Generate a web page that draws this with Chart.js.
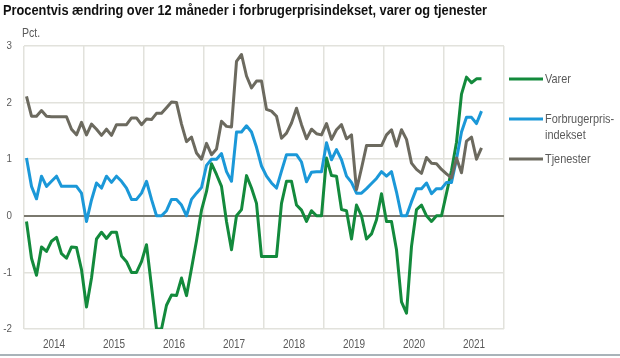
<!DOCTYPE html>
<html><head><meta charset="utf-8">
<script src="https://cdn.jsdelivr.net/npm/chart.js@4.4.1/dist/chart.umd.min.js"></script>
<style>html,body{margin:0;padding:0;background:#fff;} #wrap{width:620px;height:358px;position:relative;}</style>
</head><body><div id="wrap"><canvas id="c" width="620" height="358"></canvas></div>
<script>
const chartTitle = 'Procentvis ændring over 12 måneder i forbrugerprisindekset, varer og tjenester';
const unitLabel = 'Pct.';
const years = ['2014', '2015', '2016', '2017', '2018', '2019', '2020', '2021'];
const seriesNames = ['Varer', 'Forbrugerpris-\nindekset', 'Tjenester'];
const yTicks = [-2, -1, 0, 1, 2, 3];

// monthly values, Jan 2014 .. Aug 2021
const varer = [
  -0.10, -0.75, -1.05, -0.55, -0.63, -0.45, -0.38, -0.67, -0.75, -0.55, -0.56, -0.95,
  -1.61, -1.10, -0.41, -0.29, -0.40, -0.29, -0.29, -0.71, -0.81, -1.00, -1.00, -0.81,
  -0.51, -1.25, -2.00, -2.00, -1.58, -1.40, -1.41, -1.10, -1.41, -0.93, -0.44, 0.10,
  0.43, 0.92, 0.73, 0.52, -0.10, -0.60, 0.00, 0.11, 0.71, 0.49, 0.22, -0.72,
  -0.72, -0.72, -0.72, 0.22, 0.61, 0.61, 0.19, 0.10, -0.10, 0.09, 0.00, 0.00,
  1.02, 0.71, 0.70, 0.11, 0.09, -0.41, 0.19, 0.00, -0.41, -0.32, -0.07, 0.39,
  -0.10, -0.10, -0.60, -1.52, -1.72, -0.54, 0.11, 0.19, 0.00, -0.10, 0.00, 0.00,
  0.40, 0.80, 1.30, 2.15, 2.45, 2.35, 2.42, 2.42
];
const forbrugerprisindekset = [
  1.02, 0.52, 0.30, 0.70, 0.52, 0.61, 0.70, 0.52, 0.52, 0.52, 0.52, 0.40,
  -0.10, 0.28, 0.58, 0.49, 0.70, 0.59, 0.70, 0.61, 0.49, 0.29, 0.29, 0.40,
  0.61, 0.29, 0.00, 0.00, 0.09, 0.29, 0.29, 0.19, 0.00, 0.29, 0.40, 0.50,
  0.89, 1.00, 1.00, 1.10, 0.78, 0.61, 1.48, 1.48, 1.59, 1.48, 1.21, 0.88,
  0.70, 0.58, 0.49, 0.79, 1.08, 1.08, 1.08, 0.95, 0.60, 0.77, 0.78, 0.78,
  1.29, 0.99, 1.17, 0.99, 0.70, 0.59, 0.40, 0.40, 0.48, 0.57, 0.66, 0.78,
  0.70, 0.78, 0.42, 0.00, 0.00, 0.25, 0.48, 0.48, 0.58, 0.39, 0.48, 0.48,
  0.59, 0.59, 1.00, 1.48, 1.74, 1.74, 1.63, 1.85
];
const tjenester = [
  2.11, 1.76, 1.76, 1.86, 1.76, 1.75, 1.75, 1.75, 1.75, 1.53, 1.43, 1.65,
  1.43, 1.62, 1.53, 1.42, 1.53, 1.42, 1.61, 1.61, 1.61, 1.73, 1.73, 1.61,
  1.71, 1.70, 1.81, 1.81, 1.91, 2.01, 2.00, 1.62, 1.31, 1.39, 1.11, 1.00,
  1.28, 1.08, 1.18, 1.67, 1.58, 1.57, 2.73, 2.85, 2.47, 2.26, 2.38, 2.38,
  1.88, 1.85, 1.76, 1.37, 1.46, 1.64, 1.90, 1.61, 1.36, 1.53, 1.45, 1.43,
  1.63, 1.35, 1.52, 1.61, 1.36, 1.43, 0.46, 0.84, 1.24, 1.24, 1.24, 1.24,
  1.43, 1.52, 1.23, 1.52, 1.35, 0.93, 0.82, 0.75, 1.03, 0.93, 0.92, 0.82,
  0.74, 0.67, 1.02, 0.76, 1.32, 1.39, 1.00, 1.20
];

const colors = ['#138a3c', '#1b98d8', '#6c6a5f'];
const FONT = "'Liberation Sans', Arial, sans-serif";
const TEXT = '#5a5a5a';
const GRID = '#e2e2dc';
const monthsPerYear = 12;
const totalMonths = years.length * monthsPerYear;

const toPoints = arr => arr.map((v, i) => ({ x: i + 0.5, y: v }));

// draw horizontally condensed text (imitates a narrow typeface)
function narrowText(c, text, x, y, align, font, sx) {
  c.save();
  c.font = font;
  c.textBaseline = 'middle';
  c.textAlign = align;
  c.translate(x, y);
  c.scale(sx, 1);
  c.fillText(text, 0, 0);
  c.restore();
}

const decor = {
  id: 'decor',
  beforeDraw(chart) {
    const c = chart.ctx;
    c.save();
    c.fillStyle = '#fff';
    c.fillRect(0, 0, chart.width, chart.height);
    c.restore();
  },
  afterDraw(chart) {
    const c = chart.ctx;
    const area = chart.chartArea;
    const xs = chart.scales.x, ys = chart.scales.y;
    c.save();
    // title
    c.fillStyle = '#111';
    narrowText(c, chartTitle, 3, 11, 'left', 'bold 14px ' + FONT, 0.915);
    c.fillStyle = TEXT;
    // unit
    narrowText(c, unitLabel, area.left - 2, 34, 'left', '12px ' + FONT, 0.88);
    // x labels
    xs.ticks.forEach(t => {
      if (t.value % monthsPerYear === monthsPerYear / 2) {
        narrowText(c, years[(t.value - monthsPerYear / 2) / monthsPerYear], xs.getPixelForValue(t.value), area.bottom + 16, 'center', '12.5px ' + FONT, 0.8);
      }
    });
    // y labels
    ys.ticks.forEach(t => {
      narrowText(c, String(t.value), area.left - 12, ys.getPixelForValue(t.value), 'right', '11.5px ' + FONT, 0.85);
    });
    // legend
    const lx = area.right + 5;
    const ly = [79, 119, 159];
    chart.data.datasets.forEach((ds, k) => {
      c.strokeStyle = ds.borderColor;
      c.lineWidth = 3;
      c.beginPath();
      c.moveTo(lx, ly[k]);
      c.lineTo(lx + 34, ly[k]);
      c.stroke();
      c.fillStyle = TEXT;
      ds.label.split('\n').forEach((ln, j) => narrowText(c, ln, lx + 36, ly[k] + j * 16, 'left', '13px ' + FONT, 0.84));
    });
    // bottom rule
    c.fillStyle = '#a9b3b9';
    c.fillRect(0, 354, chart.width, 2);
    c.restore();
  }
};

new Chart(document.getElementById('c'), {
  type: 'line',
  data: {
    datasets: [varer, forbrugerprisindekset, tjenester].map((arr, k) => ({
      label: seriesNames[k],
      data: toPoints(arr),
      borderColor: colors[k],
      backgroundColor: colors[k],
      borderWidth: 3,
      pointRadius: 0,
      tension: 0,
      borderJoinStyle: 'round',
      order: 3 - k
    }))
  },
  options: {
    responsive: false,
    animation: false,
    events: [],
    layout: { padding: { top: 46, right: 116, bottom: 0, left: 0 } },
    plugins: { legend: { display: false }, tooltip: { enabled: false }, title: { display: false } },
    scales: {
      x: {
        type: 'linear',
        min: 0,
        max: totalMonths,
        afterBuildTicks: s => { const t = []; for (let v = 0; v <= totalMonths; v += monthsPerYear / 2) t.push({ value: v }); s.ticks = t; },
        afterFit: s => { s.height = 29; },
        border: { display: false },
        grid: {
          drawTicks: false,
          color: ctx => (ctx.tick && ctx.tick.value % monthsPerYear === 0) ? GRID : 'rgba(0,0,0,0)',
          lineWidth: 1.5
        },
        ticks: { display: false }
      },
      y: {
        min: yTicks[0],
        max: yTicks[yTicks.length - 1],
        afterBuildTicks: s => { s.ticks = yTicks.map(v => ({ value: v })); },
        afterFit: s => { s.width = 24; },
        border: { display: false },
        grid: {
          drawTicks: false,
          color: ctx => (ctx.tick && ctx.tick.value === 0) ? '#7a786e' : GRID,
          lineWidth: ctx => (ctx.tick && ctx.tick.value === 0) ? 2 : 1.5
        },
        ticks: { display: false }
      }
    }
  },
  plugins: [decor]
});
</script>
</body></html>
